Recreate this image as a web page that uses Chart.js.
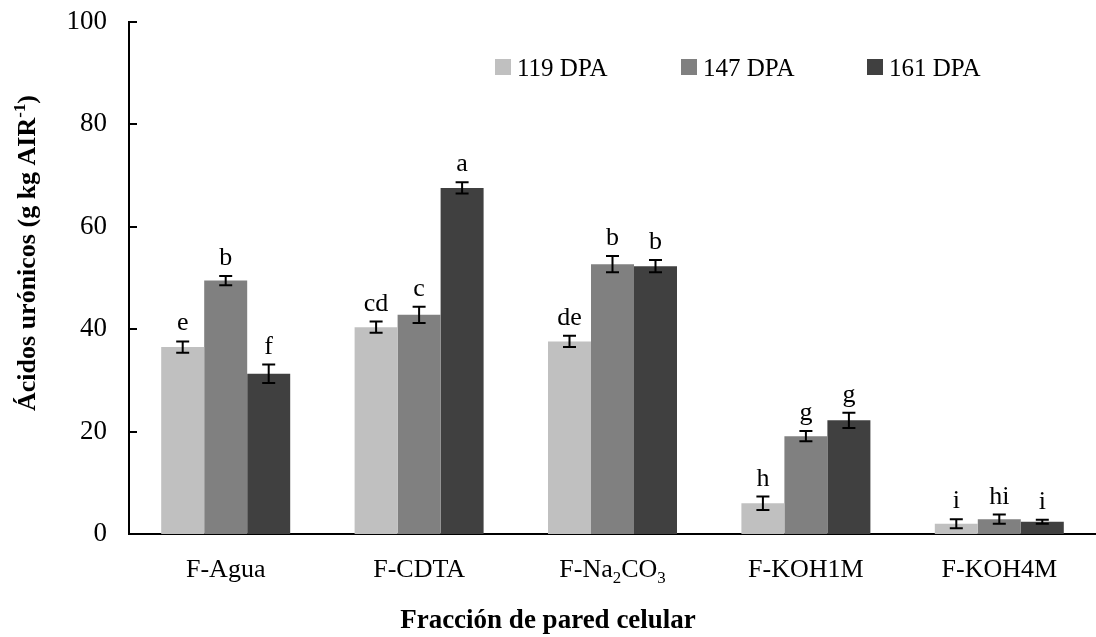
<!DOCTYPE html>
<html>
<head>
<meta charset="utf-8">
<script src="https://cdn.jsdelivr.net/npm/chart.js@4.4.1/dist/chart.umd.min.js"></script>
<style>
  html, body { margin: 0; padding: 0; background: #fff; }
  #wrap { width: 1096px; height: 637px; position: relative; }
</style>
</head>
<body>
<div id="wrap"><canvas id="chart" width="1096" height="637"></canvas></div>
<script>
    // Data
    const categories = ['F-Agua', 'F-CDTA', 'F-Na_2CO_3', 'F-KOH1M', 'F-KOH4M'];
    const seriesNames = ['119 DPA', '147 DPA', '161 DPA'];
    const seriesColors = ['#c0c0c0', '#808080', '#404040'];

    const dpa119 = [36.5, 40.4, 37.6, 6.0, 2.0];
    const dpa147 = [49.5, 42.8, 52.7, 19.1, 2.9];
    const dpa161 = [31.3, 67.6, 52.3, 22.2, 2.4];

    const err119 = [1.1, 1.1, 1.1, 1.3, 0.9];
    const err147 = [0.9, 1.6, 1.6, 1.0, 0.9];
    const err161 = [1.8, 1.1, 1.2, 1.5, 0.4];

    const letters119 = ['e', 'cd', 'de', 'h', 'i'];
    const letters147 = ['b', 'c', 'b', 'g', 'hi'];
    const letters161 = ['f', 'a', 'b', 'g', 'i'];

    const yTicks = [0, 20, 40, 60, 80, 100];
    const yTitle = 'Ácidos urónicos (g kg AIR^-1^)';
    const xTitle = 'Fracción de pared celular';

    const FONT = '"Liberation Serif", "Times New Roman", serif';

    // split 'F-Na_2CO_3' / 'AIR^-1^' into normal, sub and sup pieces
    function parseRich(str) {
        const parts = [];
        let i = 0;
        while (i < str.length) {
            const c = str[i];
            if (c === '_') {
                parts.push({ t: str[i + 1], mode: 'sub' });
                i += 2;
            } else if (c === '^') {
                const end = str.indexOf('^', i + 1);
                parts.push({ t: str.slice(i + 1, end), mode: 'sup' });
                i = end + 1;
            } else {
                let j = i;
                while (j < str.length && str[j] !== '_' && str[j] !== '^') j++;
                parts.push({ t: str.slice(i, j), mode: 'n' });
                i = j;
            }
        }
        return parts;
    }

    function richWidth(ctx, parts, size, weight) {
        let w = 0;
        parts.forEach(p => {
            const s = p.mode === 'n' ? size : size * 0.65;
            ctx.font = weight + ' ' + s + 'px ' + FONT;
            w += ctx.measureText(p.t).width;
        });
        return w;
    }

    // draws centered at x, baseline at y
    function drawRich(ctx, str, x, y, size, weight) {
        const parts = parseRich(str);
        const total = richWidth(ctx, parts, size, weight);
        let cx = x - total / 2;
        ctx.textAlign = 'left';
        ctx.textBaseline = 'alphabetic';
        parts.forEach(p => {
            const s = p.mode === 'n' ? size : size * 0.65;
            ctx.font = weight + ' ' + s + 'px ' + FONT;
            let dy = 0;
            if (p.mode === 'sub') dy = size * 0.22;
            if (p.mode === 'sup') dy = -size * 0.38;
            ctx.fillText(p.t, cx, y + dy);
            cx += ctx.measureText(p.t).width;
        });
    }

    const errors = [err119, err147, err161];
    const letters = [letters119, letters147, letters161];

    // error bars + significance letters
    const errorBarPlugin = {
        id: 'errorBars',
        afterDatasetsDraw(chart) {
            const ctx = chart.ctx;
            const yScale = chart.scales.y;
            ctx.save();
            chart.data.datasets.forEach((ds, di) => {
                const meta = chart.getDatasetMeta(di);
                meta.data.forEach((bar, i) => {
                    const v = ds.data[i];
                    const e = errors[di][i];
                    const yTop = yScale.getPixelForValue(v + e);
                    const yBot = yScale.getPixelForValue(v - e);
                    ctx.strokeStyle = '#000';
                    ctx.lineWidth = 2;
                    ctx.beginPath();
                    ctx.moveTo(bar.x, yTop);
                    ctx.lineTo(bar.x, yBot);
                    ctx.moveTo(bar.x - 6.5, yTop);
                    ctx.lineTo(bar.x + 6.5, yTop);
                    ctx.moveTo(bar.x - 6.5, yBot);
                    ctx.lineTo(bar.x + 6.5, yBot);
                    ctx.stroke();

                    ctx.fillStyle = '#000';
                    ctx.font = '26px ' + FONT;
                    ctx.textAlign = 'center';
                    ctx.textBaseline = 'alphabetic';
                    ctx.fillText(letters[di][i], bar.x, yTop - 11);
                });
            });
            ctx.restore();
        }
    };

    // inward y ticks, category labels, axis titles and in-plot legend
    const labelsPlugin = {
        id: 'richLabels',
        afterDraw(chart) {
            const ctx = chart.ctx;
            const xScale = chart.scales.x;
            const yScale = chart.scales.y;
            const area = chart.chartArea;
            ctx.save();

            ctx.strokeStyle = '#000';
            ctx.lineWidth = 2;
            ctx.beginPath();
            yTicks.forEach(v => {
                const y = Math.round(yScale.getPixelForValue(v));
                ctx.moveTo(area.left, y);
                ctx.lineTo(area.left + 8, y);
            });
            ctx.stroke();

            ctx.fillStyle = '#000';
            categories.forEach((c, i) => {
                drawRich(ctx, c, xScale.getPixelForValue(i), 577, 26, 'normal');
            });

            drawRich(ctx, xTitle, 548, 628, 27, 'bold');

            ctx.translate(35, 253);
            ctx.rotate(-Math.PI / 2);
            drawRich(ctx, yTitle, 0, 0, 26, 'bold');
            ctx.setTransform(1, 0, 0, 1, 0, 0);

            // legend
            const legendX = [495, 681, 867];
            seriesNames.forEach((name, i) => {
                ctx.fillStyle = seriesColors[i];
                ctx.fillRect(legendX[i], 59, 16, 16);
                ctx.fillStyle = '#000';
                ctx.font = '25px ' + FONT;
                ctx.textAlign = 'left';
                ctx.textBaseline = 'alphabetic';
                ctx.fillText(name, legendX[i] + 22, 76);
            });
            ctx.restore();
        }
    };

    const ctx = document.getElementById('chart').getContext('2d');
    new Chart(ctx, {
        type: 'bar',
        data: {
            labels: categories,
            datasets: [
                { label: seriesNames[0], data: dpa119, backgroundColor: seriesColors[0] },
                { label: seriesNames[1], data: dpa147, backgroundColor: seriesColors[1] },
                { label: seriesNames[2], data: dpa161, backgroundColor: seriesColors[2] }
            ]
        },
        options: {
            responsive: false,
            animation: false,
            layout: { padding: { top: 22, right: 0, left: 0, bottom: 0 } },
            datasets: {
                bar: { categoryPercentage: 0.667, barPercentage: 1.0 }
            },
            plugins: {
                legend: { display: false },
                tooltip: { enabled: false }
            },
            scales: {
                x: {
                    grid: { display: false, drawTicks: false },
                    border: { color: '#000', width: 2 },
                    ticks: { display: false },
                    afterFit(scale) { scale.height = 103; }
                },
                y: {
                    min: 0,
                    max: 100,
                    afterBuildTicks(scale) { scale.ticks = yTicks.map(v => ({ value: v })); },
                    grid: { display: false, drawTicks: false },
                    border: { color: '#000', width: 2 },
                    ticks: {
                        color: '#000',
                        padding: 22,
                        font: { family: FONT, size: 27 }
                    },
                    afterFit(scale) {
                        scale.width = 129;
                        scale.paddingTop = 0;
                        scale.paddingBottom = 0;
                    }
                }
            }
        },
        plugins: [errorBarPlugin, labelsPlugin]
    });
</script>
</body>
</html>
